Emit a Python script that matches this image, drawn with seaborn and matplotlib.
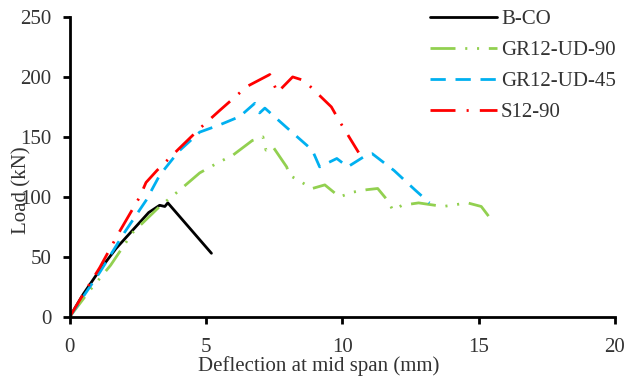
import matplotlib
matplotlib.use("Agg")
import matplotlib.pyplot as plt
import numpy as np
import pandas as pd
import seaborn as sns

### Data ###
bco_x = [0, 0.5, 1.1, 1.7, 2.3, 2.9, 3.3, 3.49, 3.6, 4.4, 5.2]
bco_y = [0, 19, 39, 57, 72, 87, 93, 92, 95, 74, 53]

gr90_x = [0, 0.7, 1.5, 2.3, 3.3, 4.0, 4.77, 5.4, 6.0, 6.7, 7.09, 7.2, 7.45, 7.96, 8.07,
          8.9, 9.36, 9.9, 10.4, 10.9, 11.3, 11.7, 11.85, 12.2, 12.8, 13.7, 14.6, 15.1, 15.4]
gr90_y = [0, 21, 43, 70, 92, 105, 120, 128, 135, 147, 150, 139, 142, 125, 118,
          107, 110, 100, 104, 106, 107, 96, 89, 93, 95, 92, 95, 92, 83]

gr45_x = [0, 0.5, 1.1, 2.0, 2.8, 3.3, 4.0, 4.77, 5.5, 6.24, 6.79, 6.97, 7.16, 8.0, 8.9,
          9.17, 9.8, 10.2, 10.9, 11.1, 11.9, 12.66, 13.2]
gr45_y = [0, 17, 37, 70, 97, 118, 138, 154, 160, 167, 178, 170, 174, 157, 139,
          125, 132, 125, 135, 136, 122, 106, 95]

s90_x = [0, 0.5, 1.1, 1.8, 2.57, 2.8, 3.2, 4.0, 4.77, 5.5, 6.5, 7.34, 7.62, 8.18, 8.6,
         9.6, 9.9, 10.6]
s90_y = [0, 19, 41, 70, 100, 112, 122, 140, 157, 172, 192, 202, 187, 200, 197,
         175, 163, 137]

labels = ["B-CO", "GR12-UD-90", "GR12-UD-45", "S12-90"]
colors = ["black", "#92D050", "#00B0F0", "#FF0000"]
styles = ["-", (0, (18, 7, 1.5, 7, 1.5, 7)), (0, (11, 7)), (0, (18, 8, 1.5, 8))]

series = [(bco_x, bco_y), (gr90_x, gr90_y), (gr45_x, gr45_y), (s90_x, s90_y)]

sns.set_style("ticks")
plt.rcParams['font.family'] = ['Liberation Serif', 'DejaVu Serif']
plt.rcParams['lines.scale_dashes'] = False

fig = plt.figure(figsize=(6.28, 3.85), dpi=100)
ax = fig.add_axes([0.111, 0.177, 0.868, 0.779])

for (xs, ys), lab, col, ls in zip(series, labels, colors, styles):
    df = pd.DataFrame({"x": xs, "y": ys})
    sns.lineplot(data=df, x="x", y="y", ax=ax, sort=False, estimator=None,
                 color=col, linewidth=2, label=lab)
    ax.lines[-1].set_linestyle(ls)

ax.set_xlim(0, 20)
ax.set_ylim(0, 250)
ax.set_xticks([0, 5, 10, 15, 20])
ax.set_yticks([0, 50, 100, 150, 200, 250])
sns.despine(ax=ax)
for sp in ["left", "bottom"]:
    ax.spines[sp].set_linewidth(2)
    ax.spines[sp].set_color("black")
ax.tick_params(axis="both", labelsize=15, length=5, width=2, colors="black",
               labelcolor="#333333")
ax.tick_params(axis="x", pad=10)
ax.tick_params(axis="y", pad=8)

ax.set_xlabel("Deflection at mid span (mm)", fontsize=15, color="#333333")
ax.set_ylabel("Load (kN)", fontsize=15, color="#333333")
ax.xaxis.set_label_coords(0.457, -0.13)
ax.yaxis.set_label_coords(-0.07, 0.423)

handles = ax.lines[:4]
leg = fig.legend(handles=handles, labels=labels, loc="upper left",
                 bbox_to_anchor=(0.685, 0.975), frameon=False, fontsize=15,
                 handlelength=3.2, handletextpad=0.2, labelspacing=0.55,
                 borderpad=0, borderaxespad=0)
for t in leg.get_texts():
    t.set_color("#333333")
if ax.get_legend() is not None:
    ax.get_legend().remove()

fig.savefig("out.png", dpi=100)
